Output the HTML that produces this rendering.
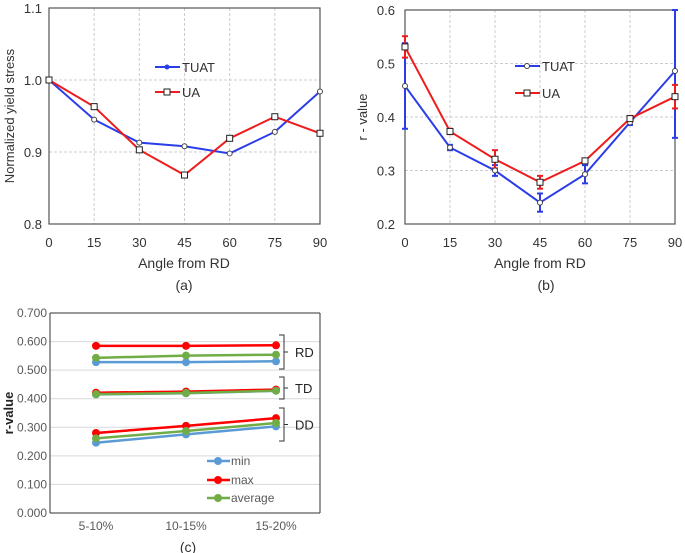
<!DOCTYPE html>
<html><head><meta charset="utf-8"><style>
body{margin:0;background:#fff;}
svg{display:block;font-family:"Liberation Sans",sans-serif;}
</style></head><body>
<svg id="s" width="685" height="553" viewBox="0 0 685 553"></svg>
<script>
const angles=[0,15,30,45,60,75,90];
const aTUAT=[1.0,0.945,0.913,0.908,0.898,0.928,0.984];
const aUA=[1.0,0.963,0.903,0.868,0.919,0.949,0.926];
const aTicks=[0.8,0.9,1.0,1.1];
const bTUAT=[0.458,0.343,0.300,0.240,0.293,0.390,0.486];
const bUA=[0.531,0.373,0.321,0.278,0.318,0.397,0.438];
const bTUATerr=[0.08,0.005,0.01,0.017,0.017,0.005,0.125];
const bUAerr=[0.02,0.005,0.017,0.012,0.004,0.005,0.022];
const bTicks=[0.2,0.3,0.4,0.5,0.6];
const cCats=["5-10%","10-15%","15-20%"];
const rdMin=[0.528,0.528,0.531],rdMax=[0.585,0.585,0.587],rdAvg=[0.543,0.551,0.554];
const tdMin=[0.415,0.419,0.428],tdMax=[0.421,0.425,0.432],tdAvg=[0.416,0.420,0.428];
const ddMin=[0.246,0.275,0.303],ddMax=[0.280,0.305,0.332],ddAvg=[0.261,0.287,0.315];
const cTicks=[0,0.1,0.2,0.3,0.4,0.5,0.6,0.7];

const S=document.getElementById('s');const NS='http://www.w3.org/2000/svg';
function el(t,a,txt){const e=document.createElementNS(NS,t);for(const k in a)e.setAttribute(k,a[k]);if(txt!==undefined)e.textContent=txt;S.appendChild(e);return e;}

// ---- chart a ----
const ax=v=>49+(v/90)*271, ay=v=>224-(v-0.8)/0.3*216;
angles.forEach(a=>{if(a>0&&a<90){const g=el('line',{x1:ax(a),x2:ax(a),y1:ay(1.1),y2:ay(0.8),stroke:'#ccc','stroke-dasharray':'3,2'});}});
aTicks.forEach(t=>{if(t>0.8&&t<1.1){const g=el('line',{x1:ax(0),x2:ax(90),y1:ay(t),y2:ay(t),stroke:'#ccc','stroke-dasharray':'3,2'});}
const l=el('text',{x:42,y:ay(t)+5,'text-anchor':'end','font-size':13,fill:'#333'},t.toFixed(1));});
el('rect',{x:ax(0),y:ay(1.1),width:271,height:216,fill:'none',stroke:'#555','stroke-width':1.2,});
angles.forEach(a=>{const l=el('text',{x:ax(a),y:247,'text-anchor':'middle','font-size':13,fill:'#333'},a);});
el('text',{x:184,y:268,'text-anchor':'middle','font-size':14,fill:'#333',},'Angle from RD');
el('text',{x:184,y:290,'text-anchor':'middle','font-size':14,fill:'#333',},'(a)');
el('text',{x:14,y:116,'text-anchor':'middle','font-size':13,fill:'#333',transform:'rotate(-90 14 116)',},'Normalized yield stress');
function series(xf,yf,vals,col,marker,name){
 const p=el('polyline',{points:vals.map((v,i)=>xf(angles[i])+','+yf(v)).join(' '),fill:'none',stroke:col,'stroke-width':2});
 
 vals.forEach((v,i)=>{let m;if(marker==='sq')m=el('rect',{x:xf(angles[i])-3,y:yf(v)-3,width:6,height:6,fill:'#fff',stroke:'#222','stroke-width':1});
 else m=el('circle',{cx:xf(angles[i]),cy:yf(v),r:2.5,fill:'#fff',stroke:'#444','stroke-width':1});
 });
}
series(ax,ay,aTUAT,'#2a3de8','c','a-tuat');
series(ax,ay,aUA,'#ee1c1c','sq','a-ua');
el('line',{x1:155,x2:180,y1:67,y2:67,stroke:'#2a3de8','stroke-width':2,});
el('circle',{cx:167,cy:67,r:2.5,fill:'#2a3de8',});
el('text',{x:182,y:72,'font-size':13,fill:'#333',},'TUAT');
el('line',{x1:155,x2:180,y1:92,y2:92,stroke:'#ee1c1c','stroke-width':2,});
el('rect',{x:164,y:89,width:6,height:6,fill:'#fff',stroke:'#222',});
el('text',{x:182,y:97,'font-size':13,fill:'#333',},'UA');

// ---- chart b ----
const bx=v=>405+(v/90)*270, by=v=>224-(v-0.2)/0.4*214;
angles.forEach(a=>{if(a>0&&a<90){const g=el('line',{x1:bx(a),x2:bx(a),y1:by(0.6),y2:by(0.2),stroke:'#ccc','stroke-dasharray':'3,2'});}});
bTicks.forEach(t=>{if(t>0.2&&t<0.6){const g=el('line',{x1:bx(0),x2:bx(90),y1:by(t),y2:by(t),stroke:'#ccc','stroke-dasharray':'3,2'});}
const l=el('text',{x:395,y:by(t)+5,'text-anchor':'end','font-size':13,fill:'#333'},t.toFixed(1));});
el('rect',{x:bx(0),y:by(0.6),width:270,height:214,fill:'none',stroke:'#555','stroke-width':1.2,});
angles.forEach(a=>{const l=el('text',{x:bx(a),y:247,'text-anchor':'middle','font-size':13,fill:'#333'},a);});
el('text',{x:540,y:268,'text-anchor':'middle','font-size':14,fill:'#333',},'Angle from RD');
el('text',{x:546,y:290,'text-anchor':'middle','font-size':14,fill:'#333',},'(b)');
el('text',{x:367,y:117,'text-anchor':'middle','font-size':13,fill:'#333',transform:'rotate(-90 367 117)',},'r - value');
function errs(vals,e,col,name){vals.forEach((v,i)=>{const x=bx(angles[i]);const t=Math.max(by(v+e[i]),by(0.6));
 const l=el('line',{x1:x,x2:x,y1:t,y2:by(v-e[i]),stroke:col,'stroke-width':2});
 [t,by(v-e[i])].forEach(y=>{const c=el('line',{x1:x-3,x2:x+3,y1:y,y2:y,stroke:col,'stroke-width':2});});});}
errs(bTUAT,bTUATerr,'#2a3de8','b-tuat');
errs(bUA,bUAerr,'#ee1c1c','b-ua');
series(bx,by,bTUAT,'#2a3de8','c','b-tuat');
series(bx,by,bUA,'#ee1c1c','sq','b-ua');
el('line',{x1:515,x2:540,y1:66,y2:66,stroke:'#2a3de8','stroke-width':2,});
el('circle',{cx:527,cy:66,r:2.5,fill:'#fff',stroke:'#444',});
el('text',{x:542,y:71,'font-size':13,fill:'#333',},'TUAT');
el('line',{x1:515,x2:540,y1:93,y2:93,stroke:'#ee1c1c','stroke-width':2,});
el('rect',{x:524,y:90,width:6,height:6,fill:'#fff',stroke:'#222',});
el('text',{x:542,y:98,'font-size':13,fill:'#333',},'UA');

// ---- chart c ----
const cx=i=>96+i*90, cy=v=>513-v/0.7*200;
cTicks.forEach(t=>{if(t>0){const g=el('line',{x1:50,x2:320,y1:cy(t),y2:cy(t),stroke:'#d9d9d9'});}
const l=el('text',{x:47,y:cy(t)+4,'text-anchor':'end','font-size':12,fill:'#595959'},t.toFixed(3));});
el('line',{x1:50,x2:50,y1:313,y2:513,stroke:'#333',});
el('line',{x1:50,x2:320,y1:513,y2:513,stroke:'#333',});
el('line',{x1:320,x2:320,y1:313,y2:513,stroke:'#333',});
el('line',{x1:50,x2:320,y1:313,y2:313,stroke:'#333',});
cCats.forEach((c,i)=>{const l=el('text',{x:cx(i),y:530,'text-anchor':'middle','font-size':12,fill:'#595959'},c);});
el('text',{x:13,y:413,'text-anchor':'middle','font-size':13,'font-weight':'bold',fill:'#222',transform:'rotate(-90 13 413)',},'r-value');
el('text',{x:188,y:552,'text-anchor':'middle','font-size':14,fill:'#333',},'(c)');
function cser(vals,col,name){const p=el('polyline',{points:vals.map((v,i)=>cx(i)+','+cy(v)).join(' '),fill:'none',stroke:col,'stroke-width':2.5});
 
 vals.forEach((v,i)=>{const m=el('circle',{cx:cx(i),cy:cy(v),r:4,fill:col});});}
const cMin='#5b9bd5',cMax='#ff0000',cAvg='#70ad47';
cser(rdMin,cMin,'rd-min');cser(rdMax,cMax,'rd-max');cser(rdAvg,cAvg,'rd-avg');
cser(tdMin,cMin,'td-min');cser(tdMax,cMax,'td-max');cser(tdAvg,cAvg,'td-avg');
cser(ddMin,cMin,'dd-min');cser(ddMax,cMax,'dd-max');cser(ddAvg,cAvg,'dd-avg');
[['RD',335,369],['TD',377,399],['DD',408,441]].forEach(([n,y1,y2])=>{
 const b=el('path',{d:`M279 ${y1} H284 V${y2} H279 M284 ${(y1+y2)/2} H288`,fill:'none',stroke:'#333'});
 const t=el('text',{x:295,y:(y1+y2)/2+5,'font-size':13,fill:'#222'},n);});
[['min',cMin,461],['max',cMax,480],['average',cAvg,498]].forEach(([n,c,y])=>{
 const l=el('line',{x1:207,x2:230,y1:y,y2:y,stroke:c,'stroke-width':2.5});
 const m=el('circle',{cx:218,cy:y,r:4,fill:c});
 const t=el('text',{x:231,y:y+4,'font-size':12,fill:'#595959'},n);});
</script>
</body></html>
